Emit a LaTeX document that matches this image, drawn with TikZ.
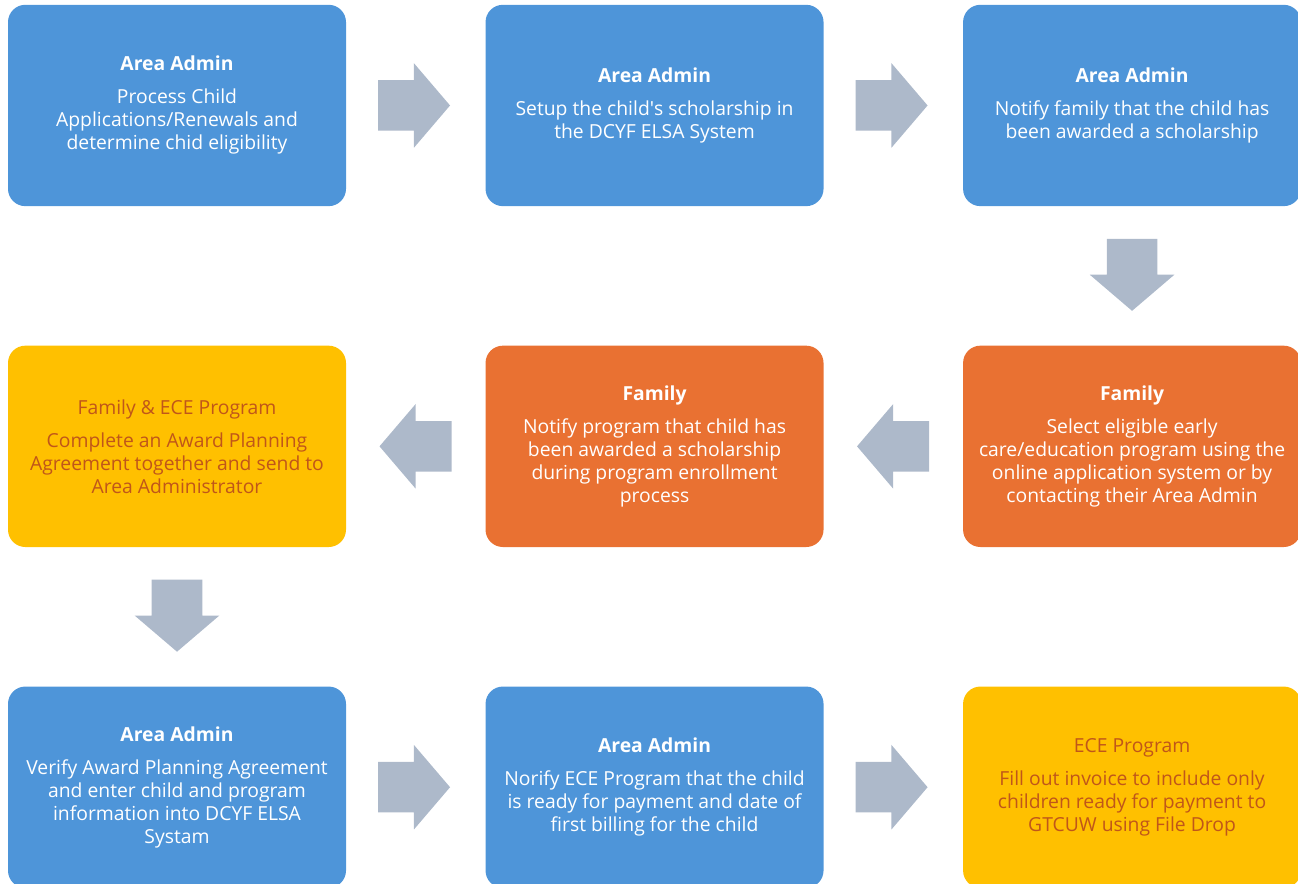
\documentclass[tikz,border=0pt]{standalone}
\usepackage{fontspec}
\setmainfont{Open Sans}
\usetikzlibrary{shapes.arrows,positioning,calc}
\definecolor{boxblue}{HTML}{4E95D9}
\definecolor{boxorange}{HTML}{E97132}
\definecolor{boxyellow}{HTML}{FFC000}
\definecolor{arrowgray}{HTML}{ADB9CA}
\definecolor{yellowtext}{HTML}{C0561A}
\tikzset{
  basic/.style       = {rectangle, rounded corners=13pt, minimum width=253.5pt,
                        minimum height=151pt, align=center, inner sep=2pt,
                        font=\fontsize{14.5}{17.25}\selectfont},
  blue box/.style    = {basic, fill=boxblue, text=white},
  orange box/.style  = {basic, fill=boxorange, text=white},
  yellow box/.style  = {basic, fill=boxyellow, text=yellowtext},
  block arrow/.style = {single arrow, fill=arrowgray, inner sep=0pt, anchor=tail,
                        text height=37.5pt, text depth=0pt, text width=0pt,
                        minimum height=54pt,
                        single arrow head extend=12.75pt, single arrow tip angle=99}
}

\begin{document}
\begin{tikzpicture}[node distance=104.25pt]
\useasboundingbox (0,0) rectangle (973.5pt,-662.25pt);
\clip (0,0) rectangle (973.5pt,-662.25pt);

% first row: Area Admin steps
\node[blue box] (b1) at (132.75pt,-79.1pt)
  {\textbf{Area Admin}\\[7.5pt] Process Child\\ Applications/Renewals and\\ determine chid eligibility};
\node[blue box, right=of b1] (b2)
  {\textbf{Area Admin}\\[7.5pt] Setup the child\textquotesingle s scholarship in\\ the DCYF ELSA System};
\node[blue box, right=of b2] (b3)
  {\textbf{Area Admin}\\[7.5pt] Notify family that the child has\\ been awarded a scholarship};

% second row, right to left
\node[orange box, below=of b3] (b6)
  {\textbf{Family}\\[7.5pt] Select eligible early\\ care/education program using the\\ online application system or by\\ contacting their Area Admin};
\node[orange box, left=of b6] (b5)
  {\textbf{Family}\\[7.5pt] Notify program that child has\\ been awarded a scholarship\\ during program enrollment\\ process};
\node[yellow box, left=of b5] (b4)
  {Family \& ECE Program\\[7.5pt] Complete an Award Planning\\ Agreement together and send to\\ Area Administrator};

% third row
\node[blue box, below=of b4] (b7)
  {\textbf{Area Admin}\\[7.5pt] Verify Award Planning Agreement\\ and enter child and program\\ information into DCYF ELSA\\ Systam};
\node[blue box, right=of b7] (b8)
  {\textbf{Area Admin}\\[7.5pt] Norify ECE Program that the child\\ is ready for payment and date of\\ first billing for the child};
\node[yellow box, right=of b8] (b9)
  {ECE Program\\[7.5pt] Fill out invoice to include only\\ children ready for payment to\\ GTCUW using File Drop};

% block arrows between the steps (placed by their tail)
\foreach \a/\b in {b1/b2, b2/b3, b7/b8, b8/b9}
  \node[block arrow] (arr-\a) at ($(\a.east)!0.5!(\b.west)+(-28.5pt,0)$) {};
\foreach \a/\b in {b6/b5, b5/b4}
  \node[block arrow, rotate=180] (arr-\a) at ($(\a.west)!0.5!(\b.east)+(27pt,0)$) {};
\node[block arrow, rotate=-90] (arr-b3) at ($(b3.south)!0.5!(b6.north)+(0,28pt)$) {};
\node[block arrow, rotate=-90] (arr-b4) at ($(b4.south)!0.5!(b7.north)+(0,28pt)$) {};
\end{tikzpicture}
\end{document}
